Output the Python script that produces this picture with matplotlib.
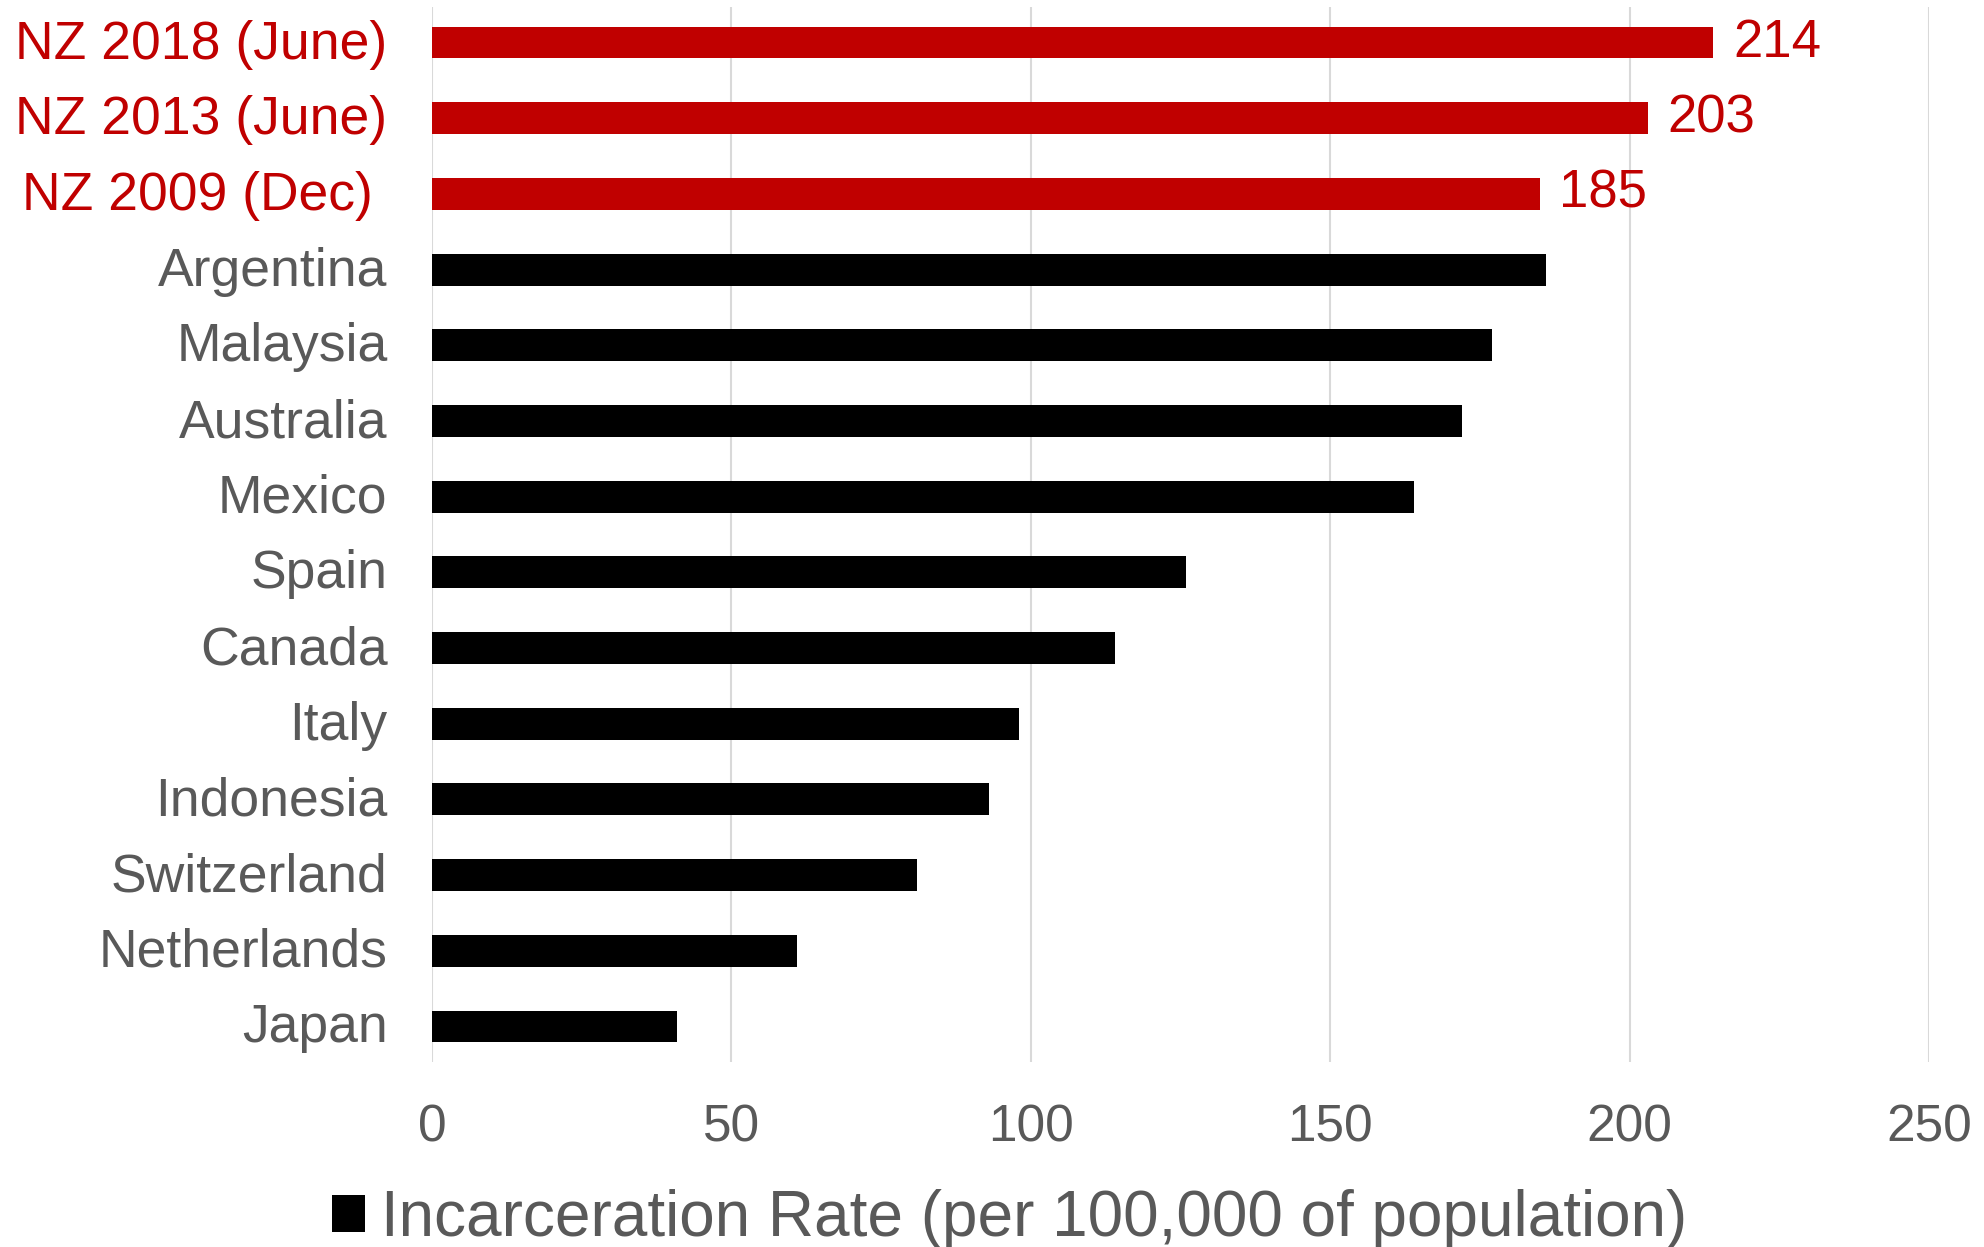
import matplotlib.pyplot as plt
from matplotlib.patches import Patch
from matplotlib.transforms import ScaledTranslation

# incarceration rate per 100,000 of population
nz_labels = ["NZ 2018 (June)", "NZ 2013 (June)", "NZ 2009 (Dec) "]
nz_rates = [214, 203, 185]
countries = ["Argentina", "Malaysia", "Australia", "Mexico", "Spain", "Canada",
             "Italy", "Indonesia", "Switzerland", "Netherlands", "Japan"]
country_rates = [186, 177, 172, 164, 126, 114, 98, 93, 81, 61, 41]
xticks = [0, 50, 100, 150, 200, 250]

RED = "#C00000"
GREY = "#595959"
GRID = "#D9D9D9"

plt.rcParams["font.family"] = ["Liberation Sans", "DejaVu Sans"]

fig = plt.figure(figsize=(19.84, 12.47), dpi=100)
ax = fig.add_axes([0.2177, 1 - 1062 / 1247, 0.9723 - 0.2177, (1062 - 7) / 1247])

labels = nz_labels + countries
pos_nz = list(range(len(nz_labels)))
pos_c = list(range(len(nz_labels), len(labels)))

h = 0.42
nz_bars = ax.barh(pos_nz, nz_rates, height=h, color=RED, zorder=3)
ax.barh(pos_c, country_rates, height=h, color="black", zorder=3)

vals = ax.bar_label(nz_bars, labels=[str(v) for v in nz_rates], padding=14,
                    fontsize=38, color=RED)
down = ScaledTranslation(0, -2 / 72, fig.dpi_scale_trans)
for t in vals:
    t.set_transform(t.get_transform() + down)

ax.set_ylim(len(labels) - 0.53, -0.47)
ax.set_xlim(0, 250)
ax.set_xticks(xticks)
ax.set_xticklabels([str(x) for x in xticks], fontsize=37, color=GREY)
ax.tick_params(axis="x", length=0, pad=30)
ax.grid(axis="x", color=GRID, linewidth=1.5, zorder=0)
for s in ax.spines.values():
    s.set_visible(False)

# category names drawn as plain text so they can sit a touch higher
ax.set_yticks([])
lab_trans = ax.get_yaxis_transform() + ScaledTranslation(-32 / 72, 2.5 / 72, fig.dpi_scale_trans)
for i, name in enumerate(labels):
    ax.text(0, i, name, transform=lab_trans, ha="right", va="center_baseline",
            fontsize=38.5, color=RED if i < len(nz_labels) else GREY)

handle = Patch(facecolor="black", edgecolor="none")
fig.legend([handle], ["Incarceration Rate (per 100,000 of population)"],
           loc="center", bbox_to_anchor=(0.509, 1 - 1219 / 1247), frameon=False,
           fontsize=46, labelcolor=GREY, handlelength=0.52, handleheight=0.52,
           handletextpad=0.25)

fig.savefig("out.png", dpi=100)
